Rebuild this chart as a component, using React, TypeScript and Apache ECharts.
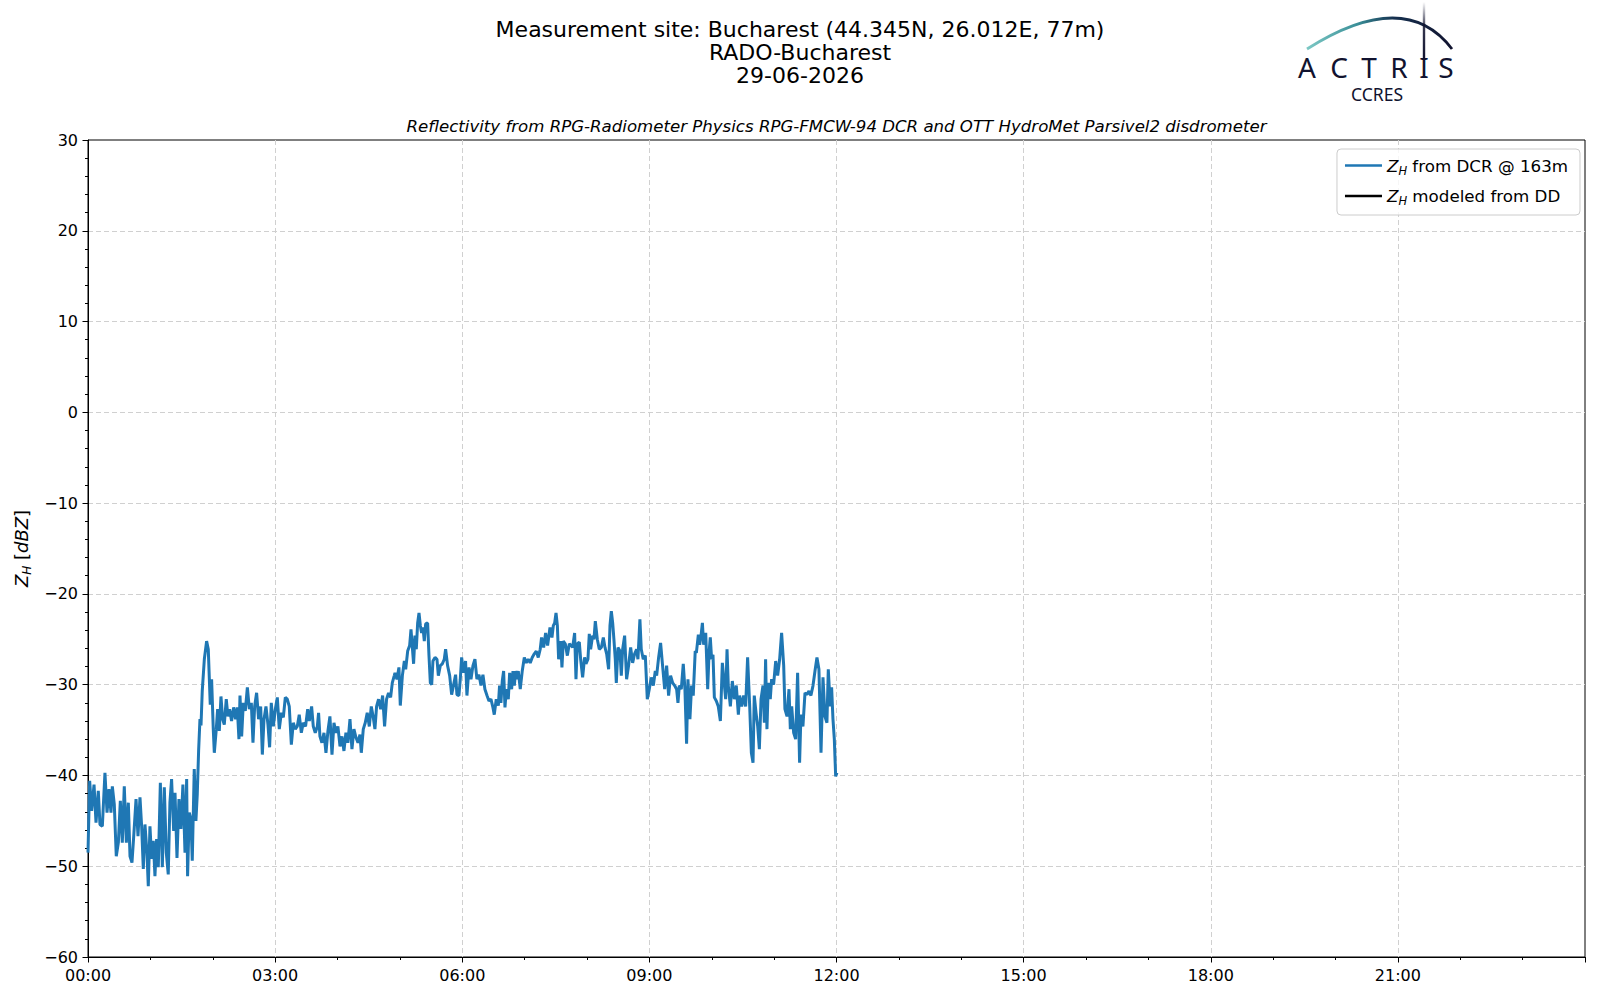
import React, { useEffect, useRef } from "react";
import * as echarts from "echarts";

// ---- Data: Z_H from DCR @ 163m, [minutes since 00:00, dBZ] ----
const dcr0002: [number, number][] = [
  [0, -48.5], [1.6, -40.6], [3.5, -43.9], [5.8, -41], [7.7, -45.2], [9.9, -41.7], [11.5, -45.4],
  [13.8, -45.6], [16.3, -39.7], [18.3, -44.1], [20.2, -41.5], [22.1, -44.1], [23.4, -41.2],
  [25.3, -43.2], [27.2, -48.9], [29.2, -47.4], [31.1, -42.8], [33, -47.4], [34.9, -41.2],
  [36.9, -47.4], [38.8, -43], [40.4, -48.9], [42.3, -49.6], [44.2, -46.3], [46.2, -42.6],
  [48.1, -46.7], [50, -42.4], [51.6, -45.6], [53.2, -50.3], [54.8, -45.4], [56.7, -48.5],
  [58, -52.2], [59.6, -45.6], [61.2, -49.2], [62.8, -47.2], [64.4, -51.1], [66, -47],
  [67.6, -50.1], [69.6, -40.8], [71.5, -50.1], [73.4, -41.3], [75.3, -48.5], [77.2, -50.9],
  [78.8, -43], [80.4, -40.4], [82.4, -46.1], [83.7, -41.9], [85.6, -49.1], [87.5, -42.6],
  [89.4, -45.9], [91.3, -41], [93.3, -48.5], [94.9, -40.4], [95.8, -51.1], [97.4, -44.1],
  [99, -44.8], [100.3, -49.4], [102.2, -39.3], [103.8, -45], [105.1, -42.1], [106.4, -37.3],
  [107.7, -33.8], [108.7, -34.5], [109.9, -30.7], [111.9, -27.2], [114.1, -25.2], [115.7, -26.1],
  [117.6, -32.2], [118.9, -29.4], [120.5, -34.9], [121.5, -37.5], [123.4, -34.9], [124.7, -32.7],
  [126.3, -35.1], [127.9, -31.3], [129.5, -33.8], [131.1, -34.4], [133, -31.6], [134.6, -33.5],
  [136.2, -32.7], [138.1, -34], [140.1, -32.5], [142, -33.8], [143.6, -32.5], [145.2, -36],
];
const dcr0205: [number, number][] = [
  [146.2, -31.2], [147.8, -35.7], [149.4, -32], [151.3, -32.9], [153.3, -30.3], [155.2, -32.7],
  [157.1, -32], [158.7, -36.4], [160.3, -32.4], [162.2, -30.9], [164.1, -33.8], [166.1, -32.4],
  [167.7, -37.7], [169.3, -33.8], [171.2, -32.4], [173.1, -34.4], [174.7, -36.9], [176.3, -32],
  [178.3, -34.6], [180.2, -32.7], [182.1, -31.4], [184, -34.9], [186, -33.1], [187.9, -33.6],
  [189.8, -31.4], [191.7, -31.6], [193.6, -32.4], [195.6, -36.6], [197.5, -34.2], [199.4, -34.9],
  [201.3, -34.6], [203.2, -33.3], [205.2, -35.3], [207.1, -34.2], [209.3, -34.6], [211.3, -32.7],
  [212.9, -34], [215.1, -32.4], [216.7, -34.6], [218.6, -35.3], [220.6, -34.6], [221.8, -33.1],
  [223.1, -35.7], [225, -36.4], [227, -35.3], [228.9, -37.5], [230.8, -35.1], [232.7, -33.5],
  [234.7, -37.7], [236.6, -34.2], [238.5, -35.3], [240.4, -34.6], [242.4, -36.8], [244.3, -35.7],
  [246.2, -37.3], [248.1, -35.3], [250, -36.4], [252, -33.8], [253.9, -37.1], [255.8, -34.9],
  [257.7, -35.8], [259.7, -36.4], [261.6, -35.5], [262.9, -37.5], [264.8, -34.9], [266.7, -34.2],
  [268.6, -33.1], [270.6, -34.6], [272.5, -32.4], [274.4, -33.6], [276, -34.9], [277.6, -32.4],
  [279.5, -31.6], [281.5, -32.7], [283.4, -31.2], [285.3, -34.6], [287.2, -31.6], [289.1, -30.9],
  [291.1, -31.4], [292.7, -29.8], [294.6, -29],
];
const dcr0507: [number, number][] = [
  [295.3, -28.7], [297.2, -29.4], [299.1, -28.1], [300.4, -32.3], [302.4, -29], [304.3, -27.4],
  [305.6, -28.3], [307.5, -26.3], [309.4, -25.7], [310.7, -23.9], [312, -25.9], [313.2, -27.7],
  [314.5, -24.6], [315.8, -26.1], [317.1, -23.2], [318.4, -22.1], [319.7, -23.5], [320.9, -24.3],
  [322.2, -23.7], [323.5, -25.2], [324.8, -23.3], [326.7, -23.2], [328, -26.8], [329.3, -29.8],
  [330.6, -30], [331.8, -27.4], [333.8, -27], [335.7, -27.2], [337, -29], [338.9, -27.9],
  [340.8, -27.7], [342.7, -27.2], [344, -26.1], [345.9, -27.9], [347.9, -29], [349.8, -31.1],
  [351.7, -30], [353.6, -28.9], [354.9, -31.1], [356.8, -31.2], [358.1, -29.4], [359.4, -27],
  [361.3, -28.7], [363.2, -27.4], [364.5, -31.2], [366.5, -28.1], [368.4, -29.4], [370.3, -27.9],
  [372.2, -27.2], [374.1, -29.4], [376.1, -28.9], [378, -30.1], [379.9, -28.9], [381.8, -30.5],
  [383.8, -31.2], [385.7, -31.8], [387.6, -31.6], [389.5, -32.5], [390.8, -33.3], [392.7, -31.6],
  [394.7, -32.3], [395.9, -30.1], [397.2, -32], [398.5, -29.6], [399.8, -28.5], [401.1, -32.5],
  [402.4, -30.5], [404.3, -31.6], [405.6, -28.7], [407.5, -30.5], [408.8, -28.5], [410.1, -30.1],
  [411.3, -28.5], [412.6, -29.4], [413.9, -28.5], [415.8, -30.5], [417.7, -28.5], [419.7, -27],
  [421.6, -27.6], [423.5, -27.2], [425.4, -27.6], [427.3, -27], [429.3, -26.6], [431.2, -26.3],
  [433.1, -27], [435, -26.1], [436.3, -24.8], [438.3, -25.9], [440.2, -24.3], [442.1, -25.7],
];
const dcr0709: [number, number][] = [
  [444.4, -23.7], [446.3, -24.8], [447.6, -23.5], [448.9, -23.2], [450.2, -22.1], [451.5, -23.5],
  [452.7, -27.2], [454.7, -25.2], [455.9, -28.1], [457.2, -25.2], [459.1, -25.5], [461.1, -26.8],
  [463, -25.5], [464.9, -25.7], [466.2, -25.9], [468.1, -24.3], [469.4, -29.4], [470.7, -25.5],
  [472.6, -25.3], [473.9, -27.2], [475.8, -29.2], [477.7, -27], [479, -27.7], [480.9, -27.2],
  [482.2, -24.4], [483.5, -26.1], [485.4, -24.6], [486.7, -25], [488, -23], [489.9, -25],
  [491.8, -26.1], [493.8, -25.9], [495.7, -24.8], [497.3, -25.9], [498.9, -26.6], [500.8, -28.3],
  [502.1, -23.5], [503.4, -21.9], [504.7, -23.2], [505.9, -25], [507.2, -27.2], [508.2, -29.8],
  [509.8, -25.9], [511.7, -26.3], [513, -29], [514.3, -26.1], [516.2, -24.6], [518.1, -29.4],
  [520, -27.9], [522, -25.9], [523.9, -27.6], [525.8, -26.6], [527.7, -26.1], [529, -27.2],
  [530.9, -22.8], [532.2, -26.1], [534.1, -27.2], [536.1, -26.8], [538, -31.6], [539.9, -30.5],
  [541.8, -29.2], [543.8, -30.1], [545.7, -28.5], [547, -29], [548.9, -27], [550.8, -25.4],
  [552.7, -27.9], [554.7, -30.5], [556.6, -27.9], [558.5, -31.2], [560.4, -29], [562.4, -29.8],
  [564.3, -30.1], [566.2, -30.5], [567.5, -32], [568.8, -30.1], [570.7, -30.5], [572.6, -27.7],
  [574.2, -30.5], [575.8, -36.5], [577.1, -29.4], [579, -33.8], [580.6, -30.1], [582.2, -31.2],
  [584.1, -26.3],
];
const dcr0912: [number, number][] = [
  [585.2, -26.5], [587.1, -24.5], [588.4, -25.6], [589.7, -24.6], [591, -23.2], [592.2, -25.6],
  [594.2, -24.3], [596.1, -30.5], [597.4, -26.5], [598.6, -24.8], [599.9, -27.2], [601.2, -26.7],
  [602.5, -31.4], [604.4, -31.8], [606.3, -32.4], [608.3, -34], [610.2, -27.6], [612.1, -30],
  [613.4, -31.6], [614.7, -26.1], [615.9, -30.1], [617.9, -32.4], [619.8, -29.6], [621.7, -31.6],
  [623.6, -30.1], [625.6, -33.3], [626.8, -31.2], [628.8, -32.4], [630.7, -31.2], [632.6, -32.4],
  [634.5, -27], [636.5, -32.4], [638.1, -37.5], [639.7, -38.6], [640.9, -31.2], [642.6, -33.1],
  [644.2, -34.6], [645.8, -37.1], [647.4, -31.6], [649.3, -30.1], [650.6, -34.2], [651.8, -27.2],
  [653.1, -34.9], [654.4, -29.8], [656.3, -31.6], [657.6, -29.4], [659.5, -30], [661.5, -27.4],
  [663.4, -29], [665.3, -27.2], [667.2, -24.3], [669.2, -27.9], [670.4, -32.7], [672.4, -33.5],
  [674.3, -30.5], [675.6, -34.9], [676.9, -32.4], [678.8, -35.3], [680.7, -36], [682.6, -28.7],
  [684.5, -38.6], [685.8, -33.3], [687.7, -34.6], [689.7, -30.9], [691.6, -31.1], [693.5, -30.7],
  [695.4, -31.2], [697.4, -30.1], [699.3, -28.5], [701.2, -27], [703.1, -28.3], [705.1, -37.5],
  [707, -29.2], [708.9, -33.5], [710.8, -34.2], [712.1, -28.3], [714, -32.4], [715.3, -30.3],
  [716.6, -33.8], [717.9, -36], [719.2, -40.1], [720.4, -39.7],
];
// Z_H modeled from DD: no data on this day
const ddModeled: [number, number][] = [];

const xMin = 0;
const xMax = 1440;
const xStep = 180;
const yMin = -60;
const yMax = 30;
const yStep = 10;

const titleLines = [
  "Measurement site: Bucharest (44.345N, 26.012E, 77m)",
  "RADO-Bucharest",
  "29-06-2026",
];
const subtitle =
  "Reflectivity from RPG-Radiometer Physics RPG-FMCW-94 DCR and OTT HydroMet Parsivel2 disdrometer";
const logoLetters = ["A", "C", "T", "R", "I", "S"];
const logoLetterX = [1307, 1339, 1369, 1399, 1424, 1446];

const FONT = "DejaVu Sans";
const NAVY = "#11132f";

const pad2 = (n: number) => (n < 10 ? "0" + n : String(n));
const hhmm = (m: number) => {
  if (m >= 1440) return "";
  const h = Math.floor(m / 60);
  return pad2(h) + ":" + pad2(Math.round(m - h * 60));
};
const yFmt = (v: number) => (v < 0 ? "\u2212" + Math.abs(v) : String(v));

export default function App() {
  const ref = useRef<HTMLDivElement>(null);
  useEffect(() => {
    if (!ref.current) return;
    const chart = echarts.init(ref.current, undefined, { renderer: "svg" });
    const dcrData = [...dcr0002, ...dcr0205, ...dcr0507, ...dcr0709, ...dcr0912];

    const richSub = {
      i: { fontFamily: FONT, fontSize: 16.7, fontStyle: "italic", color: "#000", lineHeight: 22, verticalAlign: "middle" },
      s: { fontFamily: FONT, fontSize: 11.5, fontStyle: "italic", color: "#000", lineHeight: 10, verticalAlign: "bottom" },
      n: { fontFamily: FONT, fontSize: 16.7, color: "#000", lineHeight: 22, verticalAlign: "middle" },
    };
    const richName = {
      i: { fontFamily: FONT, fontSize: 18, fontStyle: "italic", color: "#000", lineHeight: 24, verticalAlign: "middle" },
      s: { fontFamily: FONT, fontSize: 12, fontStyle: "italic", color: "#000", lineHeight: 10, verticalAlign: "bottom" },
      n: { fontFamily: FONT, fontSize: 18, color: "#000", lineHeight: 24, verticalAlign: "middle" },
    };

    const arcGrad = new echarts.graphic.LinearGradient(0, 0, 1, 0, [
      { offset: 0, color: "#7cc8c4" },
      { offset: 0.35, color: "#3a8f98" },
      { offset: 0.6, color: "#15304f" },
      { offset: 1, color: NAVY },
    ]);
    const vGrad = new echarts.graphic.LinearGradient(0, 0, 0, 1, [
      { offset: 0, color: "rgba(17,19,47,0)" },
      { offset: 0.45, color: "rgba(17,19,47,0.85)" },
      { offset: 1, color: NAVY },
    ]);

    const graphic: any[] = [];
    titleLines.forEach((t, k) => {
      graphic.push({
        type: "text",
        x: 800,
        y: 29 + k * 23.2,
        style: {
          text: t, fill: "#000", font: `22px '${FONT}'`, lineHeight: 22,
          textAlign: "center", align: "center", textVerticalAlign: "middle", verticalAlign: "middle",
        },
      });
    });
    graphic.push({
      type: "text",
      x: 836.5,
      y: 126,
      style: {
        text: subtitle, fill: "#000", font: `italic 16.6px '${FONT}'`,
        textAlign: "center", align: "center", textVerticalAlign: "middle", verticalAlign: "middle",
      },
    });
    // logo
    graphic.push({
      type: "bezierCurve",
      shape: { x1: 1307, y1: 49, x2: 1452, y2: 49, cpx1: 1405, cpy1: -13 },
      style: { stroke: arcGrad, lineWidth: 2.8, fill: null },
    });
    graphic.push({
      type: "rect",
      shape: { x: 1422.8, y: 2, width: 2.4, height: 56 },
      style: { fill: vGrad, stroke: null },
    });
    logoLetters.forEach((l, k) => {
      graphic.push({
        type: "text",
        x: logoLetterX[k],
        y: 66.5,
        style: {
          text: l, fill: NAVY, font: `28px 'Noto Sans'`, lineHeight: 22,
          textAlign: "center", align: "center", textVerticalAlign: "middle", verticalAlign: "middle",
        },
      });
    });
    graphic.push({
      type: "text",
      x: 1377,
      y: 94,
      style: {
        text: "CCRES", fill: NAVY, font: `17.5px 'Noto Sans'`, lineHeight: 14,
        textAlign: "center", align: "center", textVerticalAlign: "middle", verticalAlign: "middle",
      },
    });

    const splitLine = {
      show: true,
      showMinLine: false,
      showMaxLine: false,
      lineStyle: { color: "#d0d0d0", type: [5, 3], width: 1 },
    };

    chart.setOption({
      animation: false,
      backgroundColor: "#fff",
      grid: {
        left: 88, right: 15, top: 140, bottom: 43,
        show: true, borderColor: "#000", borderWidth: 1, backgroundColor: "transparent",
        containLabel: false,
      },
      xAxis: {
        type: "value",
        min: xMin, max: xMax, interval: xStep,
        axisLine: { show: true, onZero: false, lineStyle: { color: "#000", width: 1 } },
        axisTick: { show: true, length: 5.5, lineStyle: { color: "#000", width: 1 } },
        minorTick: { show: true, splitNumber: 3, length: 3, lineStyle: { color: "#000", width: 1 } },
        axisLabel: {
          formatter: hhmm, color: "#000", fontFamily: FONT, fontSize: 16, margin: 10,
          showMaxLabel: false, showMinLabel: true,
        },
        splitLine,
      },
      yAxis: {
        type: "value",
        min: yMin, max: yMax, interval: yStep,
        name: "{i|Z}{s|H}{n| [}{i|dBZ}{n|]}",
        nameLocation: "middle",
        nameRotate: 90,
        nameGap: 54,
        nameTextStyle: { rich: richName },
        axisLine: { show: true, onZero: false, lineStyle: { color: "#000", width: 1 } },
        axisTick: { show: true, length: 5.5, lineStyle: { color: "#000", width: 1 } },
        minorTick: { show: true, splitNumber: 5, length: 3, lineStyle: { color: "#000", width: 1 } },
        axisLabel: { formatter: yFmt, color: "#000", fontFamily: FONT, fontSize: 16, margin: 10 },
        splitLine,
      },
      legend: {
        show: true,
        orient: "vertical",
        right: 20,
        top: 149,
        data: ["dcr", "dd"],
        icon: "rect",
        itemWidth: 37,
        itemHeight: 2.5,
        itemGap: 11,
        itemTextGap: 10,
        padding: [8, 12, 8, 8],
        borderColor: "#cccccc",
        borderWidth: 1,
        borderRadius: 4,
        backgroundColor: "rgba(255,255,255,0.8)",
        formatter: (name: string) =>
          name === "dcr" ? "{i|Z}{s|H}{n| from DCR @ 163m}" : "{i|Z}{s|H}{n| modeled from DD}",
        textStyle: { rich: richSub },
      },
      graphic,
      series: [
        {
          name: "dcr",
          type: "line",
          data: dcrData,
          symbol: "none",
          showSymbol: false,
          color: "#1f77b4",
          lineStyle: { color: "#1f77b4", width: 3 },
          z: 3,
        },
        {
          name: "dd",
          type: "line",
          data: ddModeled,
          symbol: "none",
          showSymbol: false,
          color: "#000",
          lineStyle: { color: "#000", width: 2 },
        },
      ],
    });
    return () => chart.dispose();
  }, []);
  return (
    <div
      ref={ref}
      style={{ position: "fixed", left: 0, top: 0, width: 1600, height: 1000, background: "#fff" }}
    />
  );
}
